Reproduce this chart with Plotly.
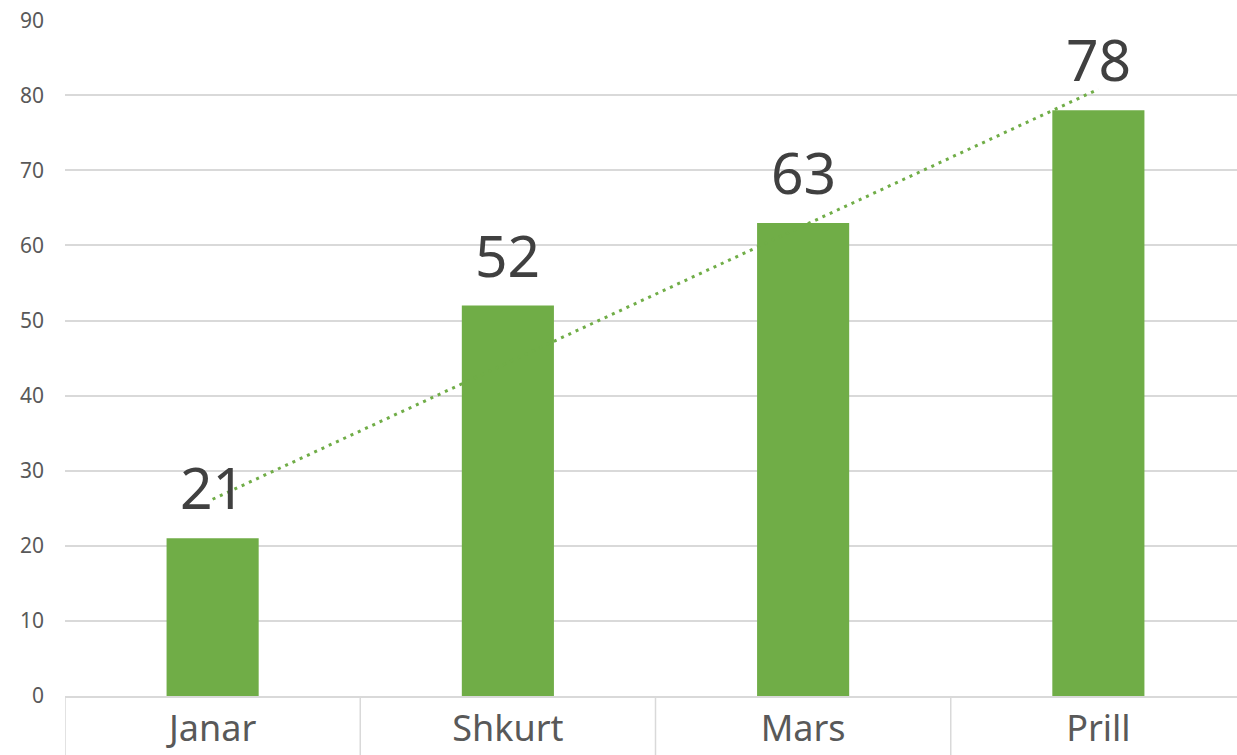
import numpy as np
import plotly.graph_objects as go

categories = ["Janar", "Shkurt", "Mars", "Prill"]
values = [21, 52, 63, 78]
y_ticks = [0, 10, 20, 30, 40, 50, 60, 70, 80, 90]

green = "#70AD47"
grid = "#D9D9D9"

# linear trendline fitted to the data (as in a spreadsheet "linear trendline")
xi = np.arange(len(values))
slope, intercept = np.polyfit(xi, values, 1)
trend = slope * xi + intercept

fig = go.Figure()
fig.add_trace(go.Bar(
    x=categories, y=values, marker=dict(color=green, line=dict(width=0)),
    showlegend=False, hoverinfo="skip",
))
fig.add_trace(go.Scatter(
    x=categories, y=trend, mode="lines",
    line=dict(color=green, width=3, dash="3px,5px"), showlegend=False, hoverinfo="skip",
))

for c, v in zip(categories, values):
    fig.add_annotation(x=c, y=v, text=str(v), showarrow=False, yanchor="bottom",
                       yshift=10, font=dict(size=57, color="#404040", family="Noto Sans"))

# category divider lines below the axis
for i in range(len(categories) + 1):
    fig.add_shape(type="line", xref="x", yref="paper",
                  x0=i - 0.5, x1=i - 0.5, y0=0, y1=-0.1,
                  line=dict(color=grid, width=1.5))

fig.update_layout(
    width=1246, height=755,
    margin=dict(l=65, r=0, t=20, b=59),
    paper_bgcolor="white", plot_bgcolor="white",
    bargap=0.688,
    font=dict(family="Noto Sans", color="#595959"),
    xaxis=dict(showgrid=False, showline=True, linecolor=grid, linewidth=1.5,
               ticks="", tickfont=dict(size=36, color="#595959"),
               range=[-0.5, len(categories) - 0.5]),
    yaxis=dict(range=[0, 90.02], tickvals=y_ticks, showgrid=True, gridcolor=grid,
               gridwidth=1.5, zeroline=False, showline=False,
               tickfont=dict(size=21, color="#595959"), ticklabelstandoff=20),
)

fig.write_html("out.html", config={"displayModeBar": False},
               post_script="document.body.style.margin='0';document.body.style.overflow='hidden';")
